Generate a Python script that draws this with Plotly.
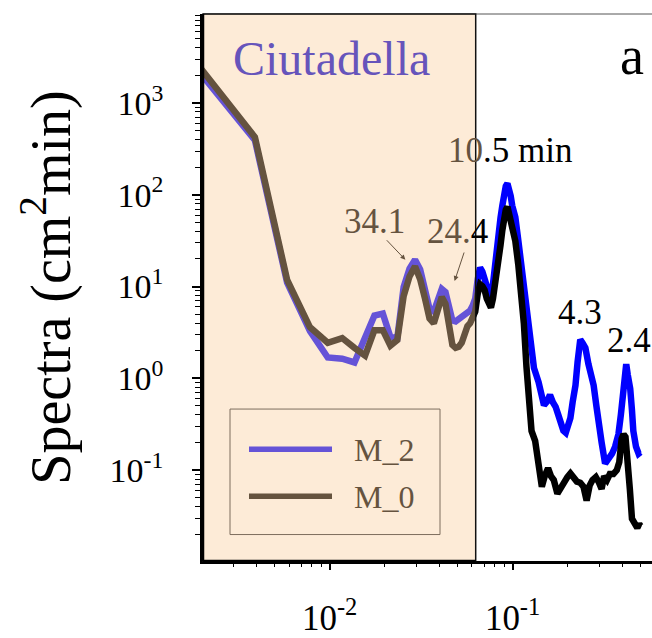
import numpy as np
import plotly.graph_objects as go

# ---------------- data ----------------
REC_LEN = 512.0  # record length in minutes -> frequency step 1/512 cycles/min

m2_k = [1, 2, 3, 4, 5, 6, 7, 8, 9, 10, 11, 12, 13, 14, 15, 16, 17, 18, 19, 20,
        21, 22, 23, 24, 25, 26, 27, 28, 29, 30, 31, 32, 33, 34, 35, 36, 37, 38, 39, 40,
        41, 42, 43, 44, 45, 46, 47, 48, 49, 50, 51, 52, 53, 55, 57, 59, 60, 62, 64, 65,
        67, 71, 76, 79, 82, 85, 88, 91, 94, 97, 100, 103, 106, 109, 113, 116, 120, 124, 128, 133,
        138, 142, 147, 151, 157, 164, 171, 179, 186, 194, 200, 207, 211, 214, 218, 225, 230, 234, 242, 250,
        256]
m2_val = [2150, 393, 11.0, 3.27, 1.69, 1.64, 1.49, 2.69, 4.84, 5.09, 2.82, 2.75, 9.9, 15.7, 19.6, 15.4, 9.9, 5.75, 5.35, 7.7,
          9.4, 8.7, 5.75, 4.28, 4.18, 4.39, 4.73, 4.84, 5.09, 5.48, 6.2, 7.4, 12.0, 16.1, 14.6, 12.0, 9.4, 7.7, 7.2, 10.6,
          18.2, 29.9, 43.2, 56.5, 75.9, 102, 124, 133, 118, 97, 75.9, 63.8, 57.0, 32.1, 17.4, 10.5, 8.3, 5.0, 3.0, 1.8,
          1.3, 0.91, 0.51, 0.56, 0.66, 0.55, 0.49, 0.40, 0.315, 0.27, 0.256, 0.30, 0.37, 0.55, 0.84, 1.5, 2.64, 2.4, 2.15, 1.43,
          1.1, 0.84, 0.50, 0.315, 0.20, 0.118, 0.13, 0.151, 0.18, 0.246, 0.40, 0.774, 1.2, 1.43, 1.1, 0.774, 0.45, 0.267, 0.18, 0.151,
          0.157]

m0_k = [1, 2, 3, 4, 5, 6, 7, 8, 9, 10, 11, 12, 13, 14, 15, 16, 17, 18, 19, 20,
        21, 22, 23, 24, 25, 26, 27, 28, 29, 30, 31, 32, 33, 34, 35, 36, 37, 38, 39, 40,
        41, 42, 43, 44, 45, 46, 47, 48, 49, 50, 51, 52, 53, 55, 57, 59, 61, 63, 65, 68,
        71, 74, 77, 80, 83, 86, 90, 94, 98, 102, 106, 110, 115, 120, 125, 130, 135, 140, 146, 152,
        157, 162, 168, 174, 182, 190, 196, 202, 207, 212, 218, 224, 230, 238, 246, 252, 256]
m0_val = [2450, 424, 11.8, 3.6, 2.44, 2.75, 2.15, 1.77, 3.35, 3.35, 2.27, 2.62, 7.9, 12.9, 16.6, 12.0, 7.4, 4.5, 3.98, 5.9,
          7.7, 6.5, 3.52, 2.32, 2.15, 2.21, 2.44, 3.27, 3.70, 3.98, 4.5, 5.35, 8.3, 10.6, 10.1, 9.2, 7.4, 6.2, 5.9, 7.4,
          10.1, 13.6, 17.4, 28.4, 41.0, 56.5, 68.7, 74.0, 62.4, 51.2, 41.0, 36.3, 31.3, 17.4, 8.3, 3.97, 1.32, 0.49, 0.267, 0.209,
          0.128, 0.066, 0.088, 0.105, 0.086, 0.078, 0.0555, 0.066, 0.075, 0.084, 0.092, 0.082, 0.075, 0.073, 0.066, 0.0467, 0.068, 0.078, 0.084, 0.073,
          0.0623, 0.086, 0.078, 0.0905, 0.0905, 0.10, 0.122, 0.219, 0.246, 0.23, 0.14, 0.062, 0.0296, 0.0249, 0.0235, 0.026, 0.0247]

series_names = ["M_2", "M_0"]
x_tick_vals = [0.01, 0.1]
x_tick_text = ["10<sup>-2</sup>", "10<sup>-1</sup>"]
y_tick_vals = [0.1, 1, 10, 100, 1000]
y_tick_text = ["10<sup>-1</sup>", "10<sup>0</sup>", "10<sup>1</sup>", "10<sup>2</sup>", "10<sup>3</sup>"]

m2_f = np.array(m2_k) / REC_LEN
m0_f = np.array(m0_k) / REC_LEN

# ---------------- styling ----------------
W, H = 652, 638
L, R, T, B = 203, 0, 14, 66
PW, PH = W - L - R, H - T - B


def PX(px):
    return (px - L) / PW


def PY(py):
    return (H - B - py) / PH


FONT = "Liberation Serif"
BROWN = "#65533f"
PURPLE = "#6553d7"

minor_x = [m * 10.0 ** e for e in (-3, -2, -1) for m in range(2, 10)]
minor_y = [m * 10.0 ** e for e in (-2, -1, 0, 1, 2, 3) for m in range(2, 10)]

fig = go.Figure()
fig.add_trace(go.Scatter(x=m2_f, y=m2_val, mode="lines", name=series_names[0],
                         line=dict(color="#0000ff", width=6.5), showlegend=False))
fig.add_trace(go.Scatter(x=m0_f, y=m0_val, mode="lines", name=series_names[1],
                         line=dict(color="#000000", width=6.5), showlegend=False))

fig.update_layout(
    width=W, height=H,
    margin=dict(l=L, r=R, t=T, b=B),
    paper_bgcolor="white", plot_bgcolor="white",
    showlegend=False,
    font=dict(family=FONT, color="black", size=20),
)
fig.update_xaxes(
    type="log", range=[-2.692, -0.238],
    tickmode="array", tickvals=x_tick_vals, ticktext=x_tick_text,
    ticks="outside", ticklen=6, tickwidth=1.5, tickcolor="black",
    tickfont=dict(size=35, family=FONT, color="black"), ticklabelstandoff=18,
    showline=True, linecolor="black", linewidth=2.5,
    showgrid=False, zeroline=False,
    minor=dict(tickmode="array", tickvals=minor_x, ticks="outside", ticklen=3,
               tickwidth=1, tickcolor="black", showgrid=False),
)
fig.update_yaxes(
    type="log", range=[-1.99, 3.97],
    tickmode="array", tickvals=y_tick_vals, ticktext=y_tick_text,
    ticks="outside", ticklen=8, tickwidth=1.5, tickcolor="black",
    tickfont=dict(size=34, family=FONT, color="black"), ticklabelstandoff=22,
    showline=True, linecolor="black", linewidth=2.5,
    showgrid=False, zeroline=False,
    minor=dict(tickmode="array", tickvals=minor_y, ticks="outside", ticklen=5,
               tickwidth=1, tickcolor="black", showgrid=False),
    title=dict(text="Spectra (cm<sup>2</sup>min)", font=dict(size=56, family=FONT, color="black"),
               standoff=22),
)

shapes = [
    dict(type="line", xref="paper", yref="paper", x0=0, x1=1, y0=1, y1=1,
         line=dict(color="#555555", width=1), layer="above"),
    dict(type="rect", xref="paper", yref="paper", x0=0, x1=PX(475.7), y0=0, y1=1,
         fillcolor="rgb(249,205,156)", opacity=0.405, line=dict(width=0), layer="above"),
    dict(type="rect", xref="paper", yref="paper", x0=0, x1=PX(475.7), y0=0, y1=1,
         fillcolor="rgba(0,0,0,0)", line=dict(color="#111111", width=1.5), layer="above"),
    dict(type="line", xref="paper", yref="paper", x0=0, x1=0, y0=0, y1=1,
         line=dict(color="black", width=2.5), layer="above"),
    dict(type="line", xref="paper", yref="paper", x0=0, x1=PX(475.7), y0=0, y1=0,
         line=dict(color="black", width=2.5), layer="above"),
    # custom legend
    dict(type="rect", xref="paper", yref="paper", x0=PX(230), x1=PX(440), y0=PY(545), y1=PY(417),
         fillcolor="rgba(0,0,0,0)", line=dict(color="#7d6d5d", width=1), layer="above"),
    dict(type="line", xref="paper", yref="paper", x0=PX(249), x1=PX(332), y0=PY(458), y1=PY(458),
         line=dict(color=PURPLE, width=5.5), layer="above"),
    dict(type="line", xref="paper", yref="paper", x0=PX(249), x1=PX(332), y0=PY(506), y1=PY(506),
         line=dict(color=BROWN, width=5.5), layer="above"),
]
fig.update_layout(shapes=shapes)


def txt(text, px, py, size, color="black", xanchor="center"):
    return dict(text=text, xref="paper", yref="paper", x=PX(px), y=PY(py),
                xanchor=xanchor, yanchor="middle", showarrow=False,
                font=dict(size=size, family=FONT, color=color))


annots = [
    txt("Ciutadella", 331, 59, 48, "#6654bb"),
    txt("a", 632, 57, 54),
    txt("<span style='color:%s'>10</span>.5 min" % BROWN, 510, 153, 35),
    txt("34.1", 374, 226, 35, BROWN),
    txt("<span style='color:%s'>24.</span>4" % BROWN, 457, 236, 35),
    txt("4.3", 580, 318, 35),
    txt("2.4", 628.5, 347, 35),
    txt(series_names[0], 352, 459, 32, BROWN, "left"),
    txt(series_names[1], 352, 507, 32, BROWN, "left"),
    dict(text="", x=np.log10(0.02594), y=np.log10(19.6), xref="x", yref="y",
         showarrow=True, arrowhead=2, arrowsize=1, arrowwidth=1, arrowcolor=BROWN,
         ax=-20, ay=-21),
    dict(text="", x=np.log10(0.0482), y=np.log10(11.5), xref="x", yref="y",
         showarrow=True, arrowhead=2, arrowsize=1, arrowwidth=1, arrowcolor=BROWN,
         ax=10, ay=-30),
]
fig.update_layout(annotations=annots)

fig.write_html("out.html")
